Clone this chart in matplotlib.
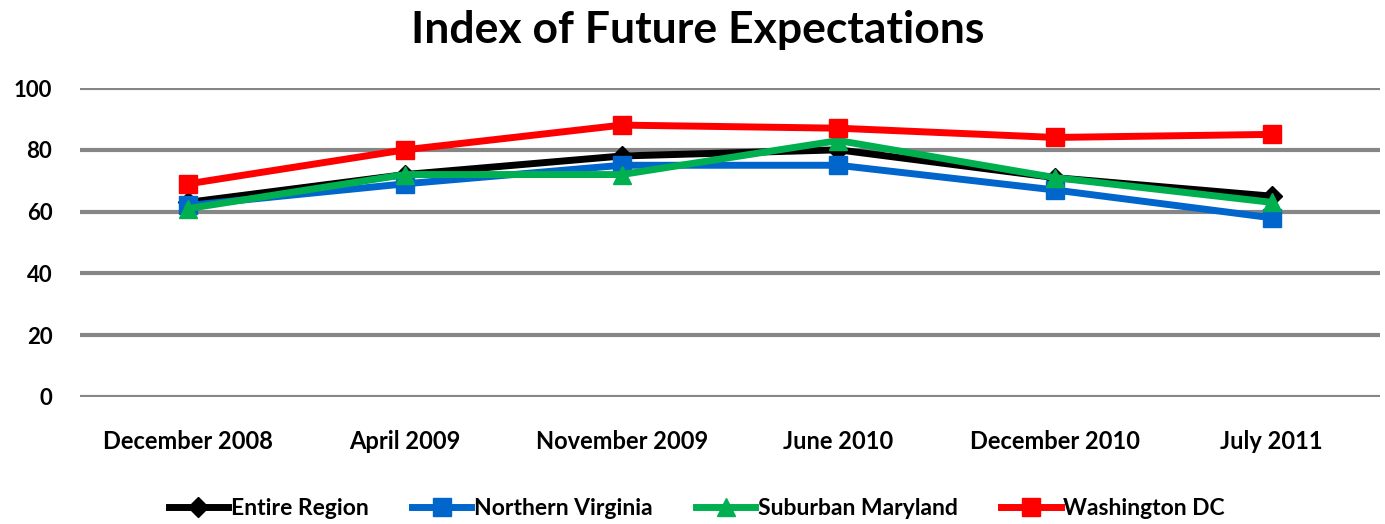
import matplotlib.pyplot as plt

# Survey waves
waves = ["December 2008", "April 2009", "November 2009",
         "June 2010", "December 2010", "July 2011"]

# Index values
entire_region = [63, 72, 78, 80, 71, 65]
northern_virginia = [62, 69, 75, 75, 67, 58]
suburban_maryland = [61, 72, 72, 83, 71, 63]
washington_dc = [69, 80, 88, 87, 84, 85]

yticks = [0, 20, 40, 60, 80, 100]

plt.rcParams['font.family'] = ['Lato', 'DejaVu Sans']
plt.rcParams['font.weight'] = 'bold'

fig = plt.figure(figsize=(13.85, 5.24), dpi=100)
ax = fig.add_axes([0.0578, 0.2424, 0.9386, 0.5896])

x = range(len(waves))
series = [
    ("Entire Region", entire_region, "#000000", "D", 10),
    ("Northern Virginia", northern_virginia, "#0066CC", "s", 13),
    ("Suburban Maryland", suburban_maryland, "#00B050", "^", 13),
    ("Washington DC", washington_dc, "#FF0000", "s", 13),
]
for name, vals, col, mk, ms in series:
    ax.plot(x, vals, color=col, lw=5, marker=mk, markersize=ms,
            label=name, clip_on=False, zorder=3)

ax.set_xlim(-0.5, len(waves) - 0.5)
ax.set_ylim(0, 100)
ax.set_yticks(yticks)
ax.set_xticks(list(x))
ax.set_xticklabels(waves)
ax.tick_params(axis='both', length=0)
ax.tick_params(axis='x', pad=24, labelsize=17)
ax.tick_params(axis='y', pad=20, labelsize=16)
ax.grid(axis='y', color='#868686', lw=3)
ax.set_axisbelow(True)
for s in ax.spines.values():
    s.set_visible(False)

fig.suptitle("Index of Future Expectations", fontsize=32, fontweight='bold',
             x=0.504, y=0.98)

fig.legend(loc='lower center', ncol=4, frameon=False, fontsize=16.5,
           bbox_to_anchor=(0.503, -0.03), handlelength=2.6, handletextpad=0.1,
           columnspacing=1.9)

fig.savefig("out.png", dpi=100)
